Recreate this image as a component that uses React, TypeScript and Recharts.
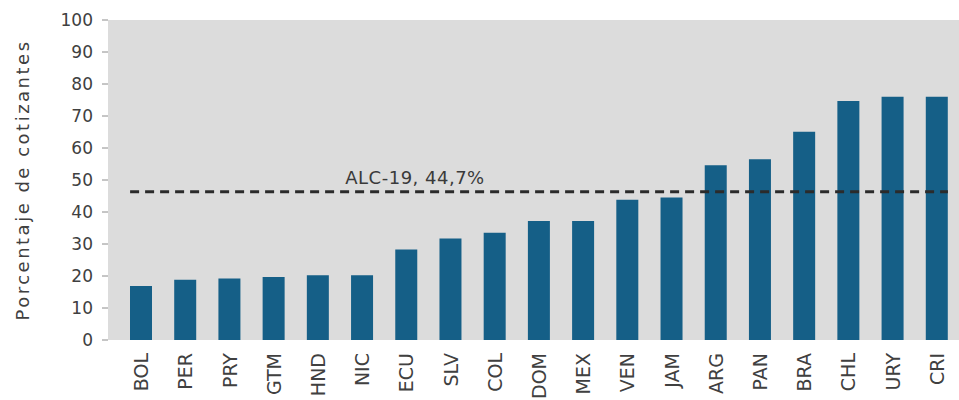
import { BarChart, Bar, XAxis, YAxis, CartesianGrid, ReferenceLine } from 'recharts';

const countries = ['BOL', 'PER', 'PRY', 'GTM', 'HND', 'NIC', 'ECU', 'SLV', 'COL', 'DOM', 'MEX', 'VEN', 'JAM', 'ARG', 'PAN', 'BRA', 'CHL', 'URY', 'CRI'];
const cotizantes = [16.9, 18.8, 19.2, 19.7, 20.2, 20.2, 28.3, 31.7, 33.5, 37.2, 37.2, 43.8, 44.5, 54.6, 56.5, 65.1, 74.7, 76.0, 76.0];
const yTicks = [0, 10, 20, 30, 40, 50, 60, 70, 80, 90, 100];
const promedioALC = 46.3;
const promedioLabel = 'ALC-19, 44,7%';

const data = countries.map((pais, i) => ({ pais, valor: cotizantes[i] }));

const textColor = '#404040';
const font = '"DejaVu Sans", sans-serif';
const barSize = 22;

// country codes rotated, reading bottom to top
const CountryTick = (props: any) => {
  const { x, y, payload } = props;
  return (
    <text
      x={x}
      y={y}
      transform={`rotate(-90, ${x}, ${y})`}
      textAnchor="end"
      dominantBaseline="central"
      fill={textColor}
      fontSize={19}
      fontFamily={font}
    >
      {payload.value}
    </text>
  );
};

// dashed line running from the first bar's left edge to the last bar's right edge
const AverageLine = (props: any) => {
  const { x1, x2, y1, y2 } = props;
  return (
    <line
      x1={x1 - barSize / 2}
      x2={x2 + barSize / 2}
      y1={y1}
      y2={y2}
      stroke="#2b2b2b"
      strokeWidth={3}
      strokeDasharray="9 6"
    />
  );
};

export default function App() {
  return (
    <div style={{ position: 'absolute', left: 0, top: 0, background: '#fff' }}>
      <BarChart width={959} height={400} data={data} margin={{ top: 20, right: 0, bottom: 0, left: 0 }}>
        <CartesianGrid fill="#dcdcdc" stroke="none" horizontal={false} vertical={false} />
        <XAxis
          dataKey="pais"
          interval={0}
          height={60}
          axisLine={false}
          tickLine={false}
          tickMargin={7}
          padding={{ left: 11, right: 0 }}
          tick={<CountryTick />}
        />
        <YAxis
          domain={[0, 100]}
          ticks={yTicks}
          width={108}
          axisLine={false}
          tickSize={6}
          tickMargin={9}
          tickLine={{ stroke: '#8c8c8c' }}
          tick={{ fill: textColor, fontSize: 17, fontFamily: font }}
          label={{
            value: 'Porcentaje de cotizantes',
            angle: -90,
            position: 'insideLeft',
            offset: 23,
            style: { textAnchor: 'middle', fill: textColor, fontSize: 18, fontFamily: font, letterSpacing: 2.5 },
          }}
        />
        <Bar dataKey="valor" fill="#155f87" barSize={barSize} isAnimationActive={false} />
        <ReferenceLine
          segment={[{ x: 'BOL', y: promedioALC }, { x: 'CRI', y: promedioALC }]}
          shape={<AverageLine />}
          label={{
            value: promedioLabel,
            position: 'top',
            offset: 8,
            dx: -124,
            style: { fill: '#3a3a3a', fontSize: 18, fontFamily: font, letterSpacing: 0.5 },
          }}
        />
      </BarChart>
    </div>
  );
}
